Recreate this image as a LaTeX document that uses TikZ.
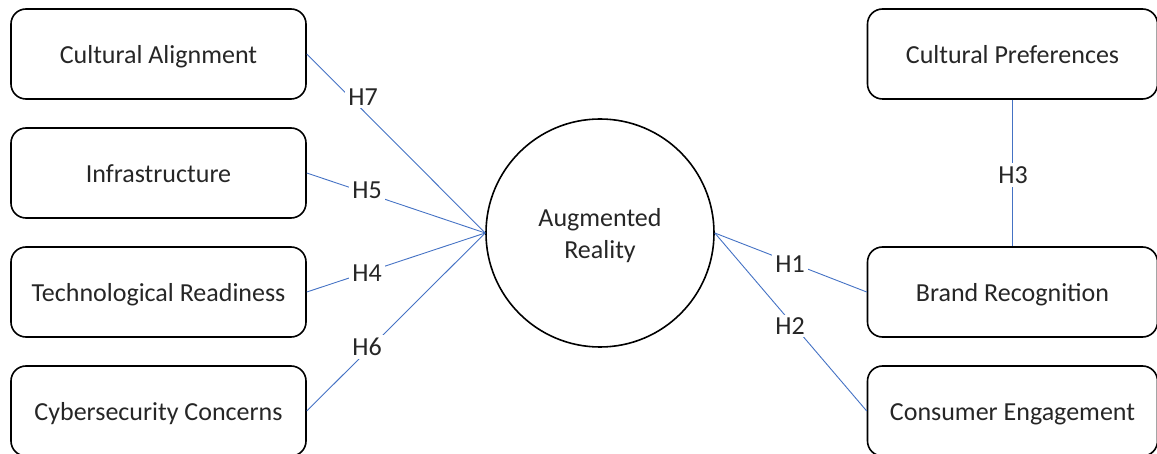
\documentclass[tikz,border=0pt]{standalone}
\usepackage{fontspec}
\setmainfont{Carlito}
\begin{document}
\begin{tikzpicture}[x=1pt,y=-1pt,
  factor/.style={draw=black, line width=1.6pt, rounded corners=15pt,
    minimum width=295pt, minimum height=90pt, inner sep=0pt,
    text height=20pt, text depth=0.5pt,
    font=\fontsize{26}{30}\selectfont, text=black!85},
  outcome/.style={factor, minimum width=290pt},
  core/.style={draw=black, line width=1.6pt, circle, minimum size=228pt,
    inner sep=0pt},
  coretext/.style={align=center, inner sep=0pt,
    font=\fontsize{26}{32}\selectfont, text=black!85},
  link/.style={draw=linkblue, line width=0.9pt},
  hyp/.style={fill=white, inner sep=3pt, font=\fontsize{26}{30}\selectfont, text=black!85}]
\definecolor{linkblue}{HTML}{4472C4}
\useasboundingbox (0,0) rectangle (1157,454);

% left-hand factors
\node[factor] (ca) at (158.5,54) {Cultural Alignment};
\node[factor] (inf) at (158.5,173) {Infrastructure};
\node[factor] (tr) at (158.5,292) {Technological Readiness};
\node[factor] (cc) at (158.5,411) {Cybersecurity Concerns};

% central construct
\node[core] (ar) at (600,233) {};
\node[coretext] (artext) at ([yshift=-3pt]ar.center) {Augmented\\Reality};

% right-hand outcomes
\node[outcome] (cp) at (1012.5,54) {Cultural Preferences};
\node[outcome] (br) at (1012.5,292) {Brand Recognition};
\node[outcome] (ce) at (1012.5,411) {Consumer Engagement};

% hypothesised paths
\draw[link] (ca.east) -- (ar.west);
\draw[link] (inf.east) -- (ar.west);
\draw[link] (tr.east) -- (ar.west);
\draw[link] (cc.east) -- (ar.west);
\draw[link] (ar.east) -- (br.west);
\draw[link] (ar.east) -- (ce.west);
\draw[link] (cp.south) -- (br.north);

% path labels
\node[hyp] (h7) at (363,97) {H7};
\node[hyp] (h5) at (367,190) {H5};
\node[hyp] (h4) at (367,273) {H4};
\node[hyp] (h6) at (367,347) {H6};
\node[hyp] (h1) at (790,264) {H1};
\node[hyp] (h2) at (790,326) {H2};
\node[hyp] (h3) at (1013,175) {H3};
\end{tikzpicture}
\end{document}
